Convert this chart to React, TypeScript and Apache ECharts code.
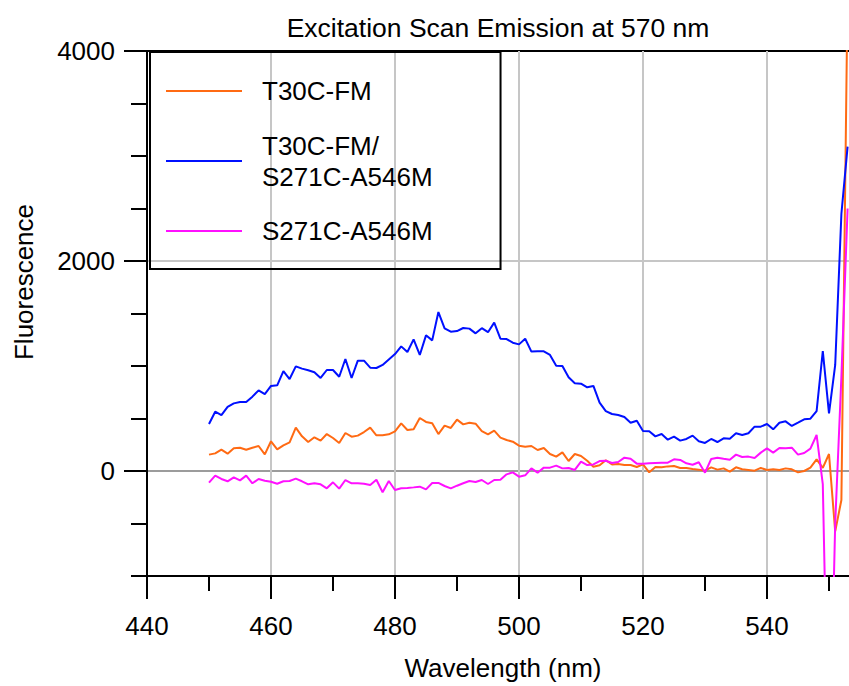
import React, { useEffect, useRef } from 'react';
import * as echarts from 'echarts';

const FONT = "'Liberation Sans', Arial, Helvetica, sans-serif";

const chartTitle = 'Excitation Scan Emission at 570 nm';
const xAxisTitle = 'Wavelength (nm)';
const yAxisTitle = 'Fluorescence';

const seriesNames = ['T30C-FM', 'T30C-FM/\nS271C-A546M', 'S271C-A546M'];
const seriesColors = ['#ff6a13', '#0010ff', '#ff10ff'];

const wavelengths = [
  450, 451, 452, 453, 454, 455, 456, 457, 458, 459,
  460, 461, 462, 463, 464, 465, 466, 467, 468, 469,
  470, 471, 472, 473, 474, 475, 476, 477, 478, 479,
  480, 481, 482, 483, 484, 485, 486, 487, 488, 489,
  490, 491, 492, 493, 494, 495, 496, 497, 498, 499,
  500, 501, 502, 503, 504, 505, 506, 507, 508, 509,
  510, 511, 512, 513, 514, 515, 516, 517, 518, 519,
  520, 521, 522, 523, 524, 525, 526, 527, 528, 529,
  530, 531, 532, 533, 534, 535, 536, 537, 538, 539,
  540, 541, 542, 543, 544, 545, 546, 547, 548, 549,
  550, 551, 552, 553,
];

const t30cFm = [
  156, 168, 203, 165, 216, 222, 203, 222, 238, 159,
  283, 206, 244, 273, 413, 330, 276, 321, 289, 352,
  314, 267, 362, 327, 337, 371, 413, 340, 340, 349,
  378, 454, 390, 397, 505, 467, 454, 352, 432, 410,
  489, 444, 460, 451, 380, 349, 384, 318, 295, 279,
  241, 232, 238, 200, 219, 162, 137, 178, 95, 162,
  143, 98, 41, 54, 102, 63, 67, 57, 57, 38,
  63, -13, 38, 35, 44, 48, 29, 29, 19, 13,
  3, 35, 13, 25, -6, 35, 16, 10, 3, 29,
  10, 16, 10, 25, 16, -13, 0, 32, 111, 29,
  162, -575, -276, 4600,
];

const t30cFmS271cA546m = [
  448, 565, 533, 610, 644, 657, 657, 708, 768, 733,
  810, 816, 952, 876, 997, 975, 959, 940, 886, 962,
  962, 898, 1067, 886, 1051, 1051, 984, 981, 1010, 1063,
  1114, 1187, 1133, 1254, 1105, 1292, 1244, 1514, 1359, 1327,
  1333, 1362, 1356, 1311, 1360, 1322, 1413, 1260, 1257, 1222,
  1206, 1260, 1137, 1140, 1140, 1105, 1003, 1000, 892, 835,
  832, 797, 810, 651, 571, 543, 533, 514, 460, 479,
  381, 378, 330, 352, 298, 327, 289, 305, 337, 283,
  267, 305, 276, 311, 308, 359, 343, 359, 422, 422,
  448, 397, 460, 473, 429, 460, 492, 498, 571, 1143,
  549, 1010, 2450, 3089,
];

const s271cA546m = [
  -111, -44, -76, -98, -60, -89, -44, -117, -76, -92,
  -102, -121, -98, -95, -73, -98, -127, -117, -127, -165,
  -108, -168, -86, -117, -117, -121, -133, -83, -203, -95,
  -181, -165, -162, -156, -149, -175, -114, -114, -143, -165,
  -140, -117, -95, -105, -86, -124, -86, -83, -32, -13,
  -54, -41, 25, -16, 32, 32, 51, 25, 29, 10,
  89, 57, 63, 95, 98, 76, 86, 127, 117, 70,
  70, 73, 76, 79, 79, 111, 105, 73, 60, 83,
  -16, 114, 127, 117, 108, 156, 133, 137, 124, 175,
  216, 175, 219, 216, 222, 156, 171, 213, 343, -125,
  -3000, -500, 900, 2500,
];

const seriesValues = [t30cFm, t30cFmS271cA546m, s271cA546m];

const GRID_GRAY = '#c6c6c6';
const BLACK_LINE = { color: '#000', width: 2 };
const plainNumber = (v: number) => String(v);

export default function App() {
  const ref = useRef<HTMLDivElement>(null);

  useEffect(() => {
    if (!ref.current) return;
    const chart = echarts.init(ref.current, undefined, { renderer: 'svg' });

    const series = seriesNames.map((name, i) => ({
      name,
      type: 'line',
      xAxisIndex: 0,
      yAxisIndex: 0,
      symbol: 'none',
      showSymbol: false,
      clip: true,
      color: seriesColors[i],
      itemStyle: { color: seriesColors[i] },
      lineStyle: { color: seriesColors[i], width: 2 },
      data: wavelengths.map((w, j) => [w, seriesValues[i][j]]),
    }));

    chart.setOption({
      animation: false,
      backgroundColor: '#ffffff',
      textStyle: { fontFamily: FONT },
      grid: [
        {
          left: 147, top: 51, width: 744, height: 525,
          show: true, borderColor: '#000', borderWidth: 2,
          backgroundColor: 'transparent', containLabel: false, outerBoundsMode: 'none',
        },
        {
          left: 147, top: 51, width: 744, height: 420, show: false,
          containLabel: false, outerBoundsMode: 'none',
        },
      ],
      xAxis: [
        {
          type: 'value', gridIndex: 0, min: 440, max: 560, interval: 20,
          axisLine: { show: true, onZero: false, lineStyle: BLACK_LINE },
          axisTick: { show: true, inside: false, length: 23, lineStyle: BLACK_LINE },
          minorTick: { show: true, splitNumber: 2, length: 15, lineStyle: BLACK_LINE },
          axisLabel: {
            show: true, margin: 37, fontSize: 26, color: '#000', fontFamily: FONT,
            formatter: plainNumber, showMaxLabel: false,
          },
          splitLine: {
            show: true,
            lineStyle: { color: ['#000', GRID_GRAY, GRID_GRAY, GRID_GRAY, GRID_GRAY, GRID_GRAY, GRID_GRAY], width: 2 },
          },
        },
        { type: 'value', gridIndex: 1, min: 440, max: 560, show: false },
      ],
      yAxis: [
        {
          type: 'value', gridIndex: 0, min: -1000, max: 4000, interval: 500,
          axisLine: { show: true, onZero: false, lineStyle: BLACK_LINE },
          axisTick: { show: true, inside: false, length: 16, lineStyle: BLACK_LINE },
          axisLabel: { show: false },
          splitLine: { show: false },
        },
        {
          type: 'value', gridIndex: 1, min: 0, max: 4000, interval: 2000,
          axisLine: { show: false, onZero: false },
          axisTick: { show: true, inside: false, length: 23, lineStyle: BLACK_LINE },
          axisLabel: { show: true, margin: 32, fontSize: 26, color: '#000', fontFamily: FONT, formatter: plainNumber },
          splitLine: { show: true, lineStyle: { color: ['#9c9c9c', GRID_GRAY, '#000'], width: 2 } },
        },
      ],
      legend: {
        show: true,
        orient: 'vertical',
        left: 150,
        top: 52,
        padding: [23.5, 68, 22.5, 16],
        icon: 'rect',
        itemWidth: 76,
        itemHeight: 2,
        itemGap: 23.5,
        borderColor: '#000',
        borderWidth: 2,
        backgroundColor: 'transparent',
        selectedMode: false,
        data: seriesNames,
        textStyle: {
          fontSize: 26, color: '#000', fontFamily: FONT, lineHeight: 31,
          padding: [0, 0, 0, 15],
        },
      },
      graphic: [
        {
          type: 'text', x: 498, y: 28,
          style: { text: chartTitle, fill: '#000', fontSize: 26.5, fontFamily: FONT, align: 'center', verticalAlign: 'middle' },
        },
        {
          type: 'text', x: 503, y: 668,
          style: { text: xAxisTitle, fill: '#000', fontSize: 26, fontFamily: FONT, align: 'center', verticalAlign: 'middle' },
        },
        {
          type: 'text', x: 24, y: 282, rotation: Math.PI / 2,
          style: { text: yAxisTitle, fill: '#000', fontSize: 26, fontFamily: FONT, align: 'center', verticalAlign: 'middle' },
        },
      ],
      series,
    });

    return () => chart.dispose();
  }, []);

  return (
    <div
      ref={ref}
      style={{ position: 'fixed', left: 0, top: 0, width: 849, height: 686, background: '#fff' }}
    />
  );
}
